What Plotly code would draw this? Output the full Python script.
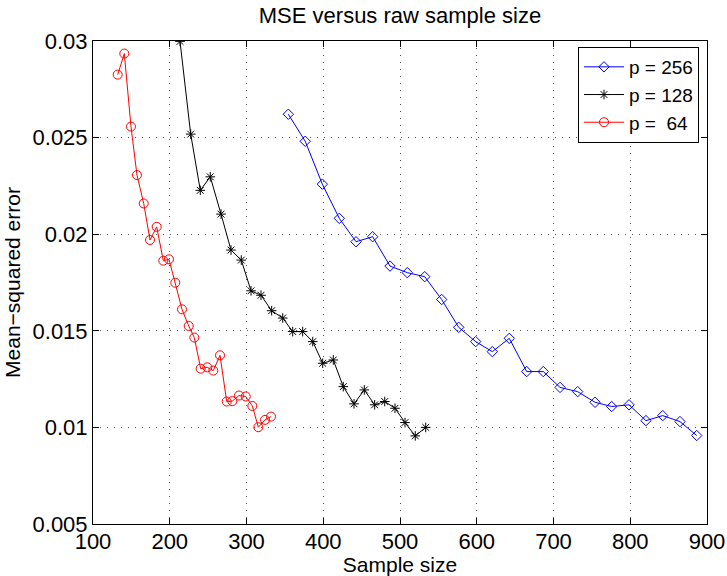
import plotly.graph_objects as go

# p = 64 (red)
x64 = [132.2, 140.8, 149.5, 157.3, 166.1, 174.3, 183.0, 191.6, 199.0, 207.2, 216.0, 224.7,
       232.0, 240.3, 248.9, 256.7, 265.5, 274.2, 281.5, 290.2, 299.0, 307.6, 315.4, 324.1, 331.9]
y64 = [0.02826, 0.02935, 0.02557, 0.02306, 0.02159, 0.0197, 0.02038, 0.01863, 0.0187, 0.01749,
       0.01611, 0.01525, 0.01465, 0.01304, 0.01311, 0.01294, 0.01373, 0.01134, 0.01136, 0.01165,
       0.0116, 0.01111, 0.01001, 0.01039, 0.01056]

# p = 128 (black)
x128 = [213.4, 227.3, 239.8, 252.8, 266.8, 279.8, 293.2, 305.9, 318.9, 332.8, 347.2, 360.2,
        373.2, 386.3, 399.3, 413.1, 426.1, 440.1, 453.5, 467.0, 480.1, 493.5, 506.5, 519.9, 533.5]
y128 = [0.02998, 0.02518, 0.02227, 0.02297, 0.02104, 0.01918, 0.01866, 0.01707, 0.01684, 0.01604,
        0.01566, 0.01496, 0.01496, 0.01444, 0.01332, 0.01349, 0.01211, 0.01122, 0.01194, 0.01117,
        0.01134, 0.01099, 0.01025, 0.00956, 0.0100]

# p = 256 (blue)
x256 = [354.5, 376.5, 398.8, 420.9, 442.7, 464.4, 487.0, 509.5, 532.2, 554.3, 576.5, 598.6,
        620.3, 642.4, 665.1, 686.7, 708.5, 731.5, 754.1, 775.8, 798.4, 820.5, 842.3, 864.8, 886.6]
y256 = [0.02621, 0.02481, 0.02259, 0.02082, 0.01961, 0.01987, 0.01835, 0.01801, 0.0178, 0.01662,
        0.01518, 0.01444, 0.01392, 0.01461, 0.01289, 0.01289, 0.01207, 0.01185, 0.0113, 0.01108,
        0.01117, 0.01035, 0.01061, 0.0103, 0.00958]

x_ticks = [100, 200, 300, 400, 500, 600, 700, 800, 900]
y_ticks = [0.005, 0.01, 0.015, 0.02, 0.025, 0.03]
y_tick_text = ["0.005", "0.01", "0.015", "0.02", "0.025", "0.03"]

FONT = "Liberation Sans, Arial, Helvetica, sans-serif"

fig = go.Figure()
fig.add_trace(go.Scatter(
    x=x256, y=y256, mode="lines+markers", name="p = 256",
    line=dict(color="#0000ff", width=1),
    marker=dict(symbol="diamond-open", size=8, color="#0000ff", line=dict(width=1))))
fig.add_trace(go.Scatter(
    x=x128, y=y128, mode="lines+markers", name="p = 128",
    line=dict(color="#000000", width=1),
    marker=dict(symbol="asterisk-open", size=8, color="#000000", line=dict(width=1, color="#000000"))))
fig.add_trace(go.Scatter(
    x=x64, y=y64, mode="lines+markers", name="p = \u00a064",
    line=dict(color="#ff0000", width=1),
    marker=dict(symbol="circle-open", size=9, color="#ff0000", line=dict(width=1))))

axis_common = dict(
    showline=True, linecolor="black", linewidth=1, mirror="allticks",
    ticks="inside", ticklen=6, tickcolor="black", tickwidth=1,
    showgrid=True, gridcolor="#555555", griddash="1px,6px", gridwidth=1,
    zeroline=False,
    tickfont=dict(family=FONT, size=22, color="black"),
)

fig.update_xaxes(range=[100, 900], tickvals=x_ticks, ticklabelstandoff=-2,
                 title=dict(text="Sample size", font=dict(family=FONT, size=21, color="black"), standoff=1),
                 **axis_common)
fig.update_yaxes(range=[0.005, 0.03], tickvals=y_ticks, ticktext=y_tick_text,
                 title=dict(text="Mean\u2212squared error", font=dict(family=FONT, size=21, color="black"), standoff=6),
                 **axis_common)

fig.update_layout(
    width=727, height=576,
    margin=dict(l=93, r=20, t=41, b=52, autoexpand=False),
    paper_bgcolor="white", plot_bgcolor="white",
    title=dict(text="MSE versus raw sample size", xref="paper", x=0.5, xanchor="center",
               yref="container", y=1 - 15.6 / 576, yanchor="middle",
               font=dict(family=FONT, size=22, color="black")),
    font=dict(family=FONT, color="black"),
    legend=dict(x=0.987, y=0.9876, xanchor="right", yanchor="top",
                bordercolor="black", borderwidth=1, bgcolor="white",
                font=dict(family=FONT, size=19, color="black"),
                tracegroupgap=0, itemwidth=40),
    showlegend=True,
)

fig.write_html("out.html", config={"displayModeBar": False},
               post_script="document.body.style.margin='0px';")
